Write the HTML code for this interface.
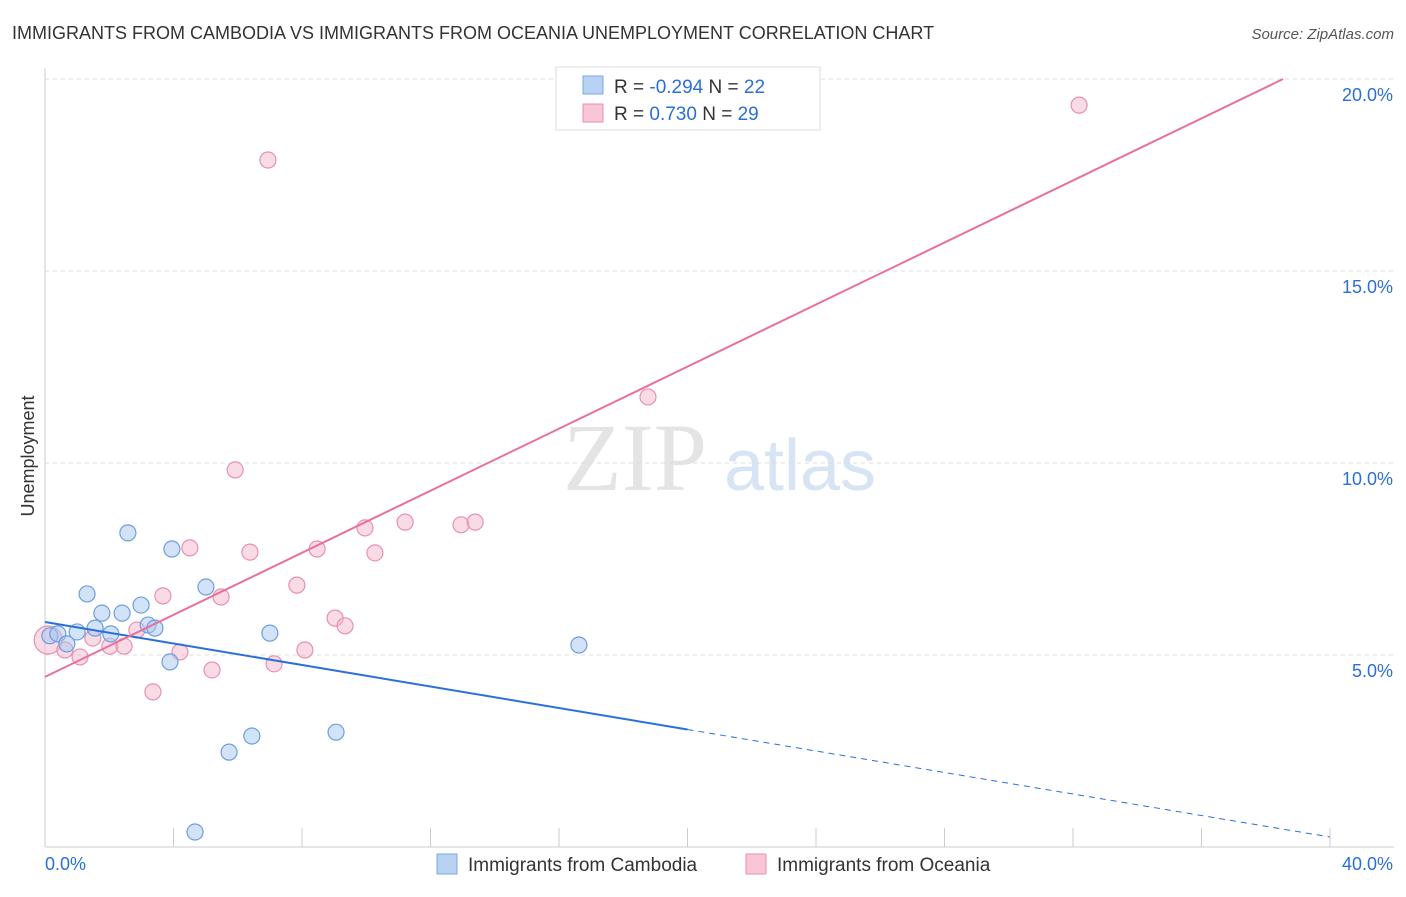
<!DOCTYPE html>
<html><head><meta charset="utf-8"><style>
body{margin:0;background:#fff;font-family:"Liberation Sans",sans-serif}
</style></head><body>
<svg width="1406" height="892" xmlns="http://www.w3.org/2000/svg">
<text x="12" y="39" font-size="18" fill="#333">IMMIGRANTS FROM CAMBODIA VS IMMIGRANTS FROM OCEANIA UNEMPLOYMENT CORRELATION CHART</text>
<text x="1394" y="39" font-size="15" fill="#555" font-style="italic" text-anchor="end">Source: ZipAtlas.com</text>
<text x="635" y="490" font-size="96" fill="#e4e4e4" font-family="Liberation Serif" text-anchor="middle">ZIP</text>
<text x="800" y="490" font-size="72" fill="#d6e4f4" text-anchor="middle">atlas</text>
<text transform="translate(34,456) rotate(-90)" font-size="18" fill="#333" text-anchor="middle">Unemployment</text>
<g id="grid"></g><g id="pts"></g><g id="lines"></g>
<g>
<rect x="556" y="67" width="264" height="63" fill="#fff" stroke="#ddd"/>
<rect x="583" y="76" width="20" height="18" fill="#b8d2f4" stroke="#7aa8e0"/>
<rect x="583" y="104" width="20" height="18" fill="#f8c6d6" stroke="#e890b0"/>
<text x="614" y="93" font-size="19" fill="#333">R = <tspan fill="#2a6fd6">-0.294</tspan>   N = <tspan fill="#2a6fd6">22</tspan></text>
<text x="614" y="120" font-size="19" fill="#333">R =  <tspan fill="#2a6fd6"> 0.730</tspan>   N = <tspan fill="#2a6fd6">29</tspan></text>
</g>
<g>
<rect x="437" y="854" width="20" height="20" fill="#b8d2f4" stroke="#7aa8e0"/>
<text x="468" y="871" font-size="19" fill="#333">Immigrants from Cambodia</text>
<rect x="746" y="854" width="20" height="20" fill="#f8c6d6" stroke="#e890b0"/>
<text x="777" y="871" font-size="19" fill="#333">Immigrants from Oceania</text>
</g>
</svg>
<script>
const yTicks=[5,10,15,20];
const yTickLabels=["5.0%","10.0%","15.0%","20.0%"];
const blueX=[0.15,0.40,0.68,1.00,1.31,1.56,1.77,2.05,2.40,2.58,2.99,3.21,3.42,3.89,3.95,5.01,5.73,6.44,7.00,4.67,9.06,16.62];
const blueY=[5.5,5.55,5.29,5.60,6.59,5.70,6.09,5.55,6.09,8.18,6.30,5.78,5.70,4.82,7.76,6.77,2.47,2.89,5.57,0.39,2.99,5.26];
const pinkX=[0.1,0.62,1.09,1.49,2.02,2.46,2.86,3.36,3.67,4.20,4.51,5.20,5.48,5.92,6.38,6.94,7.13,7.84,8.09,8.47,9.03,9.34,9.96,10.27,11.21,12.95,13.39,18.77,32.19];
const pinkY=[5.39,5.13,4.95,5.44,5.23,5.23,5.65,4.04,6.54,5.08,7.79,4.61,6.51,9.82,7.68,17.89,4.77,6.82,5.13,7.76,5.96,5.76,8.31,7.66,8.46,8.39,8.46,11.72,19.32];
const blueTrend=[5.86,-0.140];
const pinkTrend=[4.43,0.404];
const NS="http://www.w3.org/2000/svg";
const sx=v=>45+v*32.125, sy=v=>847-v*38.4;
function mk(t,a,p){const e=document.createElementNS(NS,t);for(const k in a)e.setAttribute(k,a[k]);p.appendChild(e);return e;}
const g=document.getElementById('grid');
yTicks.forEach((t,i)=>{
 const l=mk('line',{x1:45,x2:1394,y1:sy(t),y2:sy(t),stroke:'#ddd','stroke-dasharray':'4,4'},g);
 
 
 const tx=mk('text',{x:1393,y:sy(t)+22,'font-size':18,fill:'#2a6fd6','text-anchor':'end'},g);
 tx.textContent=yTickLabels[i];
 
 
});
const ax=mk('line',{x1:45,x2:1394,y1:847,y2:847,stroke:'#ccc'},g);


const ay=mk('line',{x1:45,x2:45,y1:68,y2:847,stroke:'#ccc'},g);


for(let i=1;i<=10;i++){const t=mk('line',{x1:sx(i*4),x2:sx(i*4),y1:828,y2:847,stroke:'#ccc'},g);
 
 }
const x0=mk('text',{x:45,y:870,'font-size':18,fill:'#2a6fd6'},g);x0.textContent='0.0%';


const x1=mk('text',{x:1393,y:870,'font-size':18,fill:'#2a6fd6','text-anchor':'end'},g);x1.textContent='40.0%';


const pg=document.getElementById('pts');
pinkX.forEach((x,i)=>{const c=mk('circle',{cx:sx(x),cy:sy(pinkY[i]),r:i==0?14:8,fill:'#f4b8cc','fill-opacity':0.5,stroke:'#e890b0','stroke-width':1.2},pg);
 
 });
blueX.forEach((x,i)=>{const c=mk('circle',{cx:sx(x),cy:sy(blueY[i]),r:8,fill:'#a8c8f0','fill-opacity':0.5,stroke:'#6e9ede','stroke-width':1.2},pg);
 
 });
const lg=document.getElementById('lines');
const b1=mk('line',{x1:sx(0),y1:sy(blueTrend[0]),x2:sx(20),y2:sy(blueTrend[0]+20*blueTrend[1]),stroke:'#2a70d8','stroke-width':2},lg);


const b2=mk('line',{x1:sx(20),y1:sy(blueTrend[0]+20*blueTrend[1]),x2:sx(40),y2:sy(blueTrend[0]+40*blueTrend[1]),stroke:'#2a70d8','stroke-width':1,'stroke-dasharray':'6,5'},lg);


const xe=(20-pinkTrend[0])/pinkTrend[1];
const p1=mk('line',{x1:sx(0),y1:sy(pinkTrend[0]),x2:sx(xe),y2:sy(20),stroke:'#e8709a','stroke-width':2},lg);


</script>
</body></html>
